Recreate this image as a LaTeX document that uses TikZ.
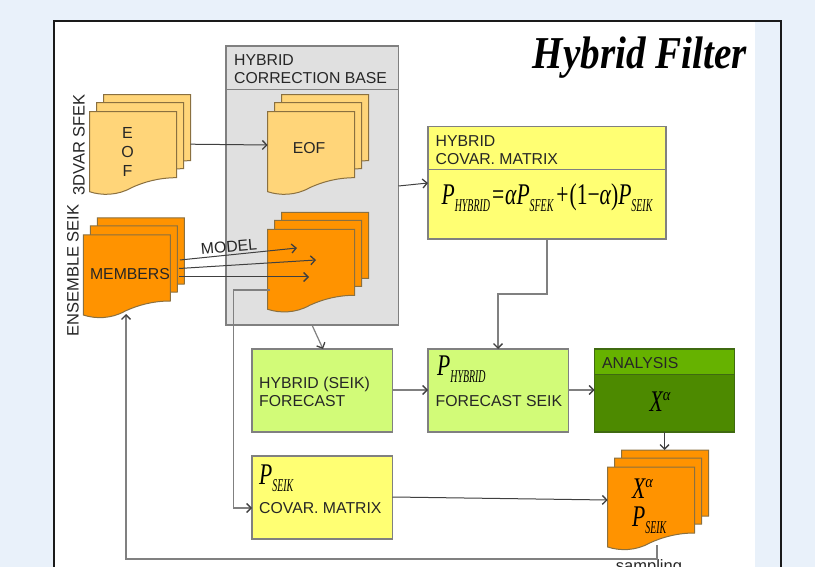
\documentclass[tikz,border=0pt]{standalone}
\usepackage{fontspec}
\usepackage{graphicx}
\setmainfont{Liberation Sans}
\newfontfamily\serifit{Liberation Serif}[ItalicFont=* Italic]
\usetikzlibrary{arrows.meta,calc}
\definecolor{pagebg}{HTML}{E9F1FA}
\definecolor{framec}{HTML}{1A1A1A}
\definecolor{lineg}{HTML}{404040}
\definecolor{boxg}{HTML}{808080}
\definecolor{greyfill}{HTML}{E0E0E0}
\definecolor{yel}{HTML}{FFFF73}
\definecolor{lime}{HTML}{D2FB78}
\definecolor{agreen}{HTML}{66B200}
\definecolor{dgreen}{HTML}{4D8A00}
\definecolor{lorange}{HTML}{FFD579}
\definecolor{dorange}{HTML}{FF9300}
\definecolor{sheetedge}{HTML}{8A7040}
\definecolor{anaedge}{HTML}{3F6A10}
\tikzset{
  lab/.style={inner sep=0pt,text=black!85,font=\fontsize{15.8}{18}\selectfont,align=left,anchor=west},
  boxnode/.style={draw=boxg,line width=1.2pt,inner sep=0pt,outer sep=0pt,anchor=north west},
  sheetline/.style={draw=sheetedge,line width=1pt},
  conn/.style={draw=lineg,line width=1pt,-{Straight Barb[length=4.5pt,width=9pt,line width=1.3pt]}},
  conng/.style={draw=boxg,line width=1.2pt,-{Straight Barb[length=4.5pt,width=9pt,line width=1.3pt,color=lineg]}},
  invisible/.style={inner sep=0pt,outer sep=0pt,minimum width=87pt,minimum height=66pt}
}
% formula helpers
\newcommand{\Pbig}[1]{\scalebox{.72}[1]{\fontsize{30}{30}\serifit\itshape #1}}
\newcommand{\Psmall}[1]{\raisebox{-7pt}{\scalebox{.55}[1]{\fontsize{18}{18}\serifit\itshape #1}}}
\newcommand{\Psup}[1]{\raisebox{11pt}{\scalebox{.85}[1]{\fontsize{17}{17}\serifit\itshape #1}}}
\newcommand{\Pform}[1]{\scalebox{.72}[1]{\fontsize{30}{30}\serifit #1}}
\newcommand{\onesheet}[3]{%
  \begin{scope}[shift={(#1,#2)}]
  \path[fill=#3,sheetline] (0,0) -- (87,0) -- (87,66)
    .. controls (70,66) and (55,70) .. (42,76)
    .. controls (28,84) and (12,84) .. (0,80) -- cycle;
  \end{scope}}
% name, x, y, colour
\newcommand{\docstack}[4]{%
  \onesheet{#2+14}{#3-17}{#4}
  \onesheet{#2+7}{#3-9}{#4}
  \onesheet{#2}{#3}{#4}
  \node[invisible] (#1) at (#2+43.5,#3+33) {};
  \node[invisible] (#1-back) at (#2+57.5,#3+16) {};
}
\begin{document}
\begin{tikzpicture}[x=1pt,y=-1pt]
\useasboundingbox (0,0) rectangle (815,567);
\clip (0,0) rectangle (815,567);
\fill[pagebg] (0,0) rectangle (815,567);
\fill[white] (54,22) rectangle (755,567);
\draw[framec,line width=2pt] (53.5,580) -- (53.5,21.5) -- (781,21.5) -- (781,580);

% title
\node[inner sep=0pt,anchor=center] (title) at (640,58)
  {\scalebox{1.03}[1.2]{\fontsize{38}{38}\serifit\bfseries\itshape Hybrid Filter}};

% grey correction base
\node[boxnode,fill=greyfill,minimum width=172.5pt,minimum height=279pt] (base) at (226,46) {};
\draw[boxg,line width=1.2pt] (226,89.5) -- (398.5,89.5);
\node[lab] (baselab) at (234,69.5) {HYBRID\\CORRECTION BASE};

% documents
\docstack{eofa}{89.5}{111.7}{lorange}
\docstack{eofb}{267.7}{111.7}{lorange}
\docstack{mem}{83.3}{235}{dorange}
\docstack{fore}{267.7}{229.3}{dorange}
\docstack{xdoc}{607.7}{467}{dorange}

\node[lab,anchor=center,align=center,font=\fontsize{16}{19}\selectfont] (eofv) at (127.5,152) {E\\O\\F};
\node[lab,anchor=center] (eofh) at (309,148) {EOF};
\node[lab,anchor=center] (memlab) at (130,274.5) {MEMBERS};
\node[lab,anchor=center,rotate=90,font=\fontsize{16.5}{18}\selectfont] (sfek) at (79,145) {3DVAR SFEK};
\node[lab,anchor=center,rotate=90,font=\fontsize{16.5}{18}\selectfont] (enslab) at (73,270.5) {ENSEMBLE SEIK};
\node[lab,anchor=center,rotate=5] (model) at (229,246.5) {MODEL};

% hybrid covar matrix
\node[boxnode,fill=yel,minimum width=238pt,minimum height=112.5pt] (covar) at (428,126.5) {};
\draw[boxg,line width=1.2pt] (428,169.5) -- (666,169.5);
\node[lab] (covarlab) at (435.5,150) {HYBRID\\COVAR. MATRIX};
\node[inner sep=0pt,anchor=center] (formula) at (547,198) {\Pbig{P}\Psmall{HYBRID}\kern2pt\Pform{=}\kern1pt\Pbig{\char"03B1 P}\Psmall{SFEK}\kern3pt\Pform{+}\kern1pt\Pform{(1}\Pform{\char"2212}\Pbig{\char"03B1}\Pform{)}\Pbig{P}\Psmall{SEIK}};

% forecast boxes
\node[boxnode,fill=lime,minimum width=140.5pt,minimum height=83pt] (hf) at (252,349) {};
\node[lab] (hflab) at (259,391.5) {HYBRID (SEIK)\\FORECAST};
\node[boxnode,fill=lime,minimum width=140.5pt,minimum height=83pt] (fs) at (428,349) {};
\node[inner sep=0pt,anchor=west] (fsp) at (437,369) {\Pbig{P}\Psmall{HYBRID}};
\node[lab] (fslab) at (435.5,401) {FORECAST SEIK};

% analysis
\node[boxnode,fill=dgreen,draw=anaedge,minimum width=140pt,minimum height=83pt] (ana) at (594.5,349) {};
\path[fill=agreen,draw=anaedge,line width=1.2pt] (594.5,349) rectangle (734.5,374.5);
\node[lab] (analab) at (602,363.5) {ANALYSIS};
\node[inner sep=0pt,anchor=center] (anax) at (660,402) {\Pbig{X}\Psup{\char"03B1}};

% seik covar
\node[boxnode,fill=yel,minimum width=140.5pt,minimum height=83pt] (sc) at (252,456) {};
\node[inner sep=0pt,anchor=west] (scp) at (259,478) {\Pbig{P}\Psmall{SEIK}};
\node[lab] (sclab) at (259,508) {COVAR. MATRIX};

% doc text
\node[inner sep=0pt,anchor=west] (xa) at (632,489) {\Pbig{X}\Psup{\char"03B1}};
\node[inner sep=0pt,anchor=west] (xp) at (632,520) {\Pbig{P}\Psmall{SEIK}};
\node[inner sep=0pt,anchor=center,font=\fontsize{16.5}{18}\selectfont,text=black!85] (samp) at (649,567) {sampling};

% free ends
\coordinate (e1) at (297,248);
\coordinate (e2) at (316,260);
\coordinate (e3) at (309,277);
\coordinate (s1) at (180,260);
\coordinate (s2) at (179,268.5);
\coordinate (s3) at (179,277);
\coordinate (tap) at (270,290);
\coordinate (out) at (657,545);
\coordinate (memin) at (126,314);

% connectors
\draw[conn] (eofa-back.east |- eofb.west) ++(0,-.5) -- (eofb.west |- 0,145);
\draw[conn] (398.5,186) coordinate (bs) -- (covar.west |- 0,183);
\draw[conn] (s1) -- (e1);
\draw[conn] (s2) -- (e2);
\draw[conn] (s3) -- (e3);
\draw[conng] (tap) -- (233.5,290) |- (sc.west |- 0,508);
\draw[conng] (312,325) -- (hf.north -| 323,0);
\draw[conng] (covar.south -| 547,0) -- (547,294) -| (fs.north -| 498,0);
\draw[conng] (hf.east) ++(0,-.5) -- ++(35.5,0);
\draw[conng] (fs.east) ++(0,-.5) -- ++(26,0);
\draw[conn] (ana.south -| 664.5,0) -- (664.5,450);
\draw[conn] (sc.east |- 0,497) -- (607.7,500);
\draw[conng] (out) -- (657,559) -| (memin);
\end{tikzpicture}
\end{document}
